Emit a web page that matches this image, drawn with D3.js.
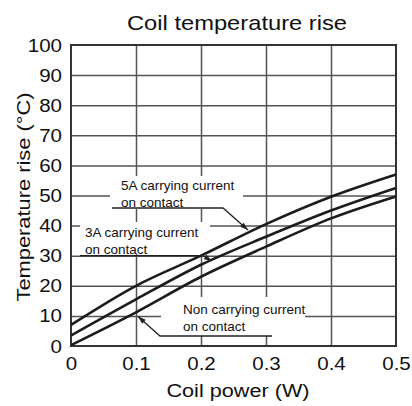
<!DOCTYPE html>
<html><head><meta charset="utf-8">
<script src="https://cdn.jsdelivr.net/npm/d3@7"></script>
<style>body{margin:0;background:#fff;} svg{display:block;font-family:"Liberation Sans",Arial,sans-serif;}</style>
</head><body>
<script>
const powerW = [0, 0.1, 0.2, 0.3, 0.4, 0.5];
const rise5A = [7, 20, 30, 40.5, 49.6, 57];
const rise3A = [3.5, 15.5, 27, 36.3, 45, 52.5];
const riseNon = [0.3, 11.2, 23, 33, 42.4, 49.7];
const xTicks = [0, 0.1, 0.2, 0.3, 0.4, 0.5];
const yTicks = [0, 10, 20, 30, 40, 50, 60, 70, 80, 90, 100];
const title = "Coil temperature rise";
const xTitle = "Coil power (W)";
const yTitle = "Temperature rise (°C)";

const W = 412, H = 406;
const svg = d3.select("body").append("svg").attr("width", W).attr("height", H);
const x = d3.scaleLinear().domain([0, 0.5]).range([71, 396]);
const y = d3.scaleLinear().domain([0, 100]).range([346, 45]);
const gridC = "#555", lineC = "#1c1c1c";

// grid
svg.append("g").attr("transform", `translate(0,${y(0)})`)
  .call(d3.axisBottom(x).tickValues(xTicks.slice(1, -1)).tickSize(-(y(0) - y(100))).tickFormat(""))
  .call(g => g.select(".domain").remove())
  .call(g => g.selectAll("line").attr("stroke", gridC).attr("stroke-width", 1.5));
svg.append("g").attr("transform", `translate(${x(0)},0)`)
  .call(d3.axisLeft(y).tickValues(yTicks.slice(1, -1)).tickSize(-(x(0.5) - x(0))).tickFormat(""))
  .call(g => g.select(".domain").remove())
  .call(g => g.selectAll("line").attr("stroke", gridC).attr("stroke-width", 1.5));

// label backgrounds
const boxes = [[110, 176, 243, 209], [80, 222, 210, 254], [161, 297, 305, 336]];
svg.selectAll("rect.bg").data(boxes).enter().append("rect")
  .attr("x", d => d[0]).attr("y", d => d[1]).attr("width", d => d[2] - d[0]).attr("height", d => d[3] - d[1])
  .attr("fill", "#fff");

// frame
svg.append("rect").attr("x", x(0)).attr("y", y(100)).attr("width", x(0.5) - x(0)).attr("height", y(0) - y(100))
  .attr("fill", "none").attr("stroke", "#333").attr("stroke-width", 2);

// curves
const line = d3.line().x((d, i) => x(powerW[i])).y(d => y(d)).curve(d3.curveMonotoneX);
[rise5A, rise3A, riseNon].forEach(s => {
  svg.append("path").attr("d", line(s)).attr("fill", "none").attr("stroke", lineC).attr("stroke-width", 2.6);
});

// axes labels (font horizontally stretched like the reference)
const tickSX = 1.08;
const xa = svg.append("g").attr("transform", `translate(0,${y(0)})`)
  .call(d3.axisBottom(x).tickValues(xTicks).tickSize(0).tickPadding(11).tickFormat(d => d === 0 ? "0" : d3.format(".1f")(d)));
xa.select(".domain").remove();
xa.selectAll("text").attr("font-size", 19).attr("fill", "#111").attr("font-family", "Liberation Sans, Arial, sans-serif")
  .attr("transform", `scale(${tickSX},1)`);
const ya = svg.append("g").attr("transform", `translate(${x(0)},0)`)
  .call(d3.axisLeft(y).tickValues(yTicks).tickSize(0).tickPadding(9));
ya.select(".domain").remove();
ya.selectAll("text").attr("font-size", 19).attr("fill", "#111").attr("font-family", "Liberation Sans, Arial, sans-serif")
  .attr("x", -9 / tickSX).attr("transform", `scale(${tickSX},1)`);

svg.append("text").attr("transform", "translate(237,29.5) scale(1.13,1)").attr("text-anchor", "middle").attr("font-size", 21).attr("fill", "#111").text(title);
svg.append("text").attr("transform", "translate(238,397) scale(1.14,1)").attr("text-anchor", "middle").attr("font-size", 19).attr("fill", "#111").text(xTitle);
svg.append("text").attr("transform", "translate(29.5,197) rotate(-90) scale(1.15,1)").attr("text-anchor", "middle").attr("font-size", 19).attr("fill", "#111").text(yTitle);

// annotations
const labels = [
  {lines: ["5A carrying current", "on contact"], x: 121, y: 190},
  {lines: ["3A carrying current", "on contact"], x: 85, y: 237},
  {lines: ["Non carrying current", "on contact"], x: 183, y: 314}
];
labels.forEach(l => {
  l.lines.forEach((t, i) => svg.append("text").attr("x", l.x).attr("y", l.y + i * 16.5)
    .attr("font-size", 13.5).attr("fill", "#111").text(t));
});

const leaders = [
  [[112, 208], [223, 208], [248, 230]],
  [[80, 255.7], [203, 255.7], [212, 261]],
  [[272, 336], [160, 336], [138, 316.5]]
];
leaders.forEach(p => {
  svg.append("path").attr("d", d3.line()(p)).attr("fill", "none").attr("stroke", "#222").attr("stroke-width", 1.3);
  const a = p[p.length - 1], b = p[p.length - 2];
  const ang = Math.atan2(a[1] - b[1], a[0] - b[0]);
  const L = 8, Wd = 2.6;
  const bx = a[0] - L * Math.cos(ang), by = a[1] - L * Math.sin(ang);
  const pts = [a, [bx + Wd * Math.sin(ang), by - Wd * Math.cos(ang)], [bx - Wd * Math.sin(ang), by + Wd * Math.cos(ang)]];
  svg.append("path").attr("d", "M" + pts.join("L") + "Z").attr("fill", "#222");
});
</script>
</body></html>
